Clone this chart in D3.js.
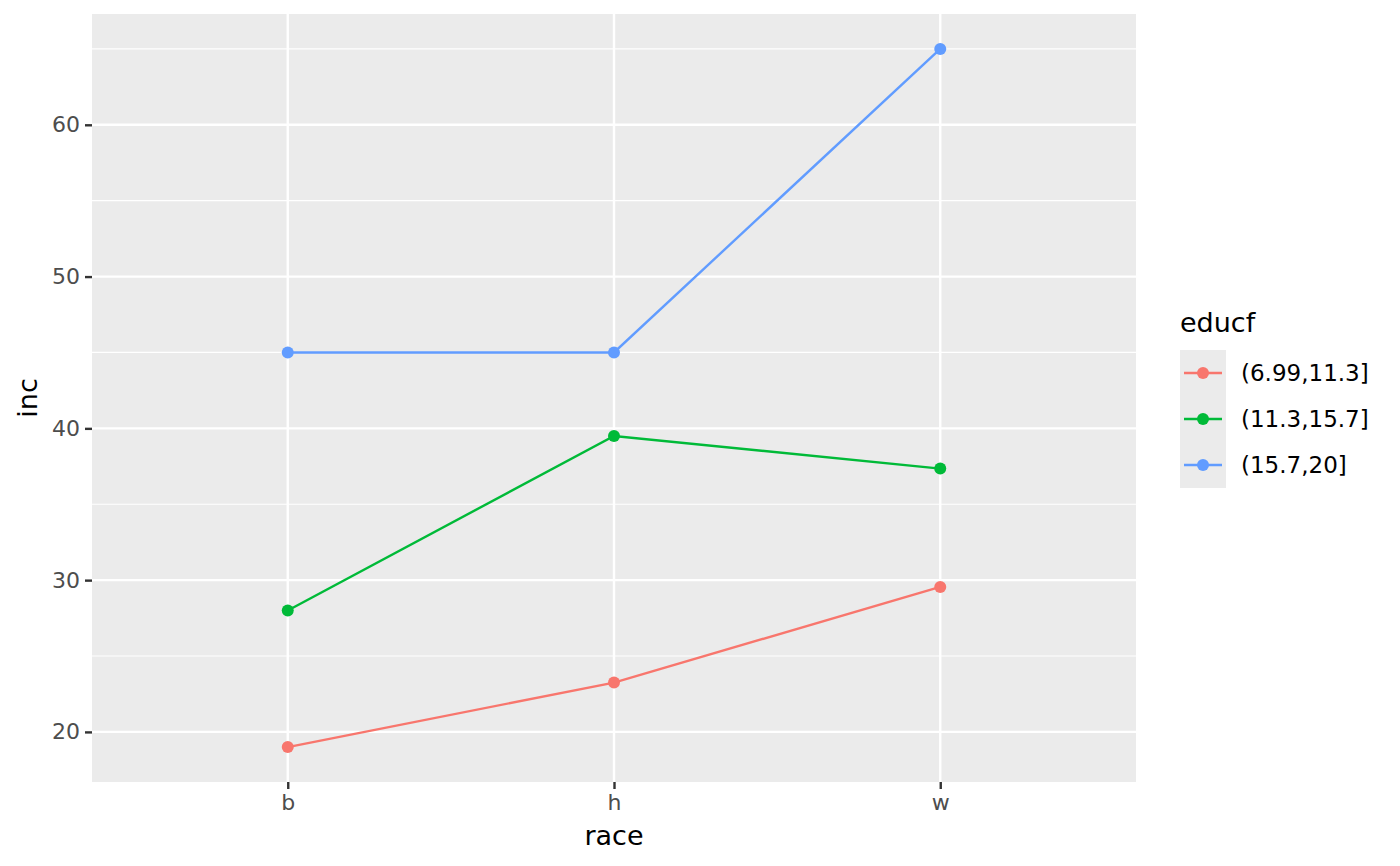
<!DOCTYPE html>
<html><head><meta charset="utf-8">
<script src="https://cdn.jsdelivr.net/npm/d3@7"></script>
<style>body{margin:0;background:#fff}text{font-family:"DejaVu Sans",sans-serif}</style>
</head><body>
<svg id="c" width="1400" height="866"></svg>
<script>
const races = ["b","h","w"];
const groups = ["(6.99,11.3]","(11.3,15.7]","(15.7,20]"];
const colors = ["#F8766D","#00BA38","#619CFF"];
const incLow = [19.0, 23.25, 29.55];
const incMid = [28.0, 39.5, 37.35];
const incHigh = [45.0, 45.0, 65.0];
const yTicks = [20,30,40,50,60];
const series = [incLow, incMid, incHigh];

const svg = d3.select("#c");
const L=92, R=1136, T=14, B=782;
const allV = series.flat();
const mn=d3.min(allV), mx=d3.max(allV), pad=(mx-mn)*0.05;
const y = d3.scaleLinear().domain([mn-pad, mx+pad]).range([B,T]);
const x = d3.scalePoint().domain(races).range([L,R]).padding(0.6);

svg.append("rect").attr("x",L).attr("y",T).attr("width",R-L).attr("height",B-T).attr("fill","#EBEBEB");
const minors = [15,25,35,45,55,65].filter(v=>y(v)>=T&&y(v)<=B);
svg.selectAll(".mg").data(minors).enter().append("line")
 .attr("x1",L).attr("x2",R).attr("y1",d=>y(d)).attr("y2",d=>y(d)).attr("stroke","#fff").attr("stroke-width",1.2);
svg.selectAll(".gy").data(yTicks).enter().append("line")
 .attr("x1",L).attr("x2",R).attr("y1",d=>y(d)).attr("y2",d=>y(d)).attr("stroke","#fff").attr("stroke-width",2.4);
svg.selectAll(".gx").data(races).enter().append("line")
 .attr("y1",T).attr("y2",B).attr("x1",d=>x(d)).attr("x2",d=>x(d)).attr("stroke","#fff").attr("stroke-width",2.4);

const yAxis = d3.axisLeft(y).tickValues(yTicks).tickSize(7).tickPadding(5);
const gy = svg.append("g").attr("transform",`translate(${L},0)`).call(yAxis);
gy.select(".domain").remove();
gy.selectAll("line").attr("stroke","#333").attr("stroke-width",2.4);
gy.selectAll("text").attr("fill","#4D4D4D").style("font-size","22px").style("font-family","DejaVu Sans");
const xAxis = d3.axisBottom(x).tickSize(7).tickPadding(5);
const gx = svg.append("g").attr("transform",`translate(0,${B})`).call(xAxis);
gx.select(".domain").remove();
gx.selectAll("line").attr("stroke","#333").attr("stroke-width",2.4);
gx.selectAll("text").attr("fill","#4D4D4D").style("font-size","22px").style("font-family","DejaVu Sans");

const line = d3.line().x((d,i)=>x(races[i])).y(d=>y(d));
series.forEach((s,k)=>{
  svg.append("path").attr("d",line(s)).attr("fill","none").attr("stroke",colors[k]).attr("stroke-width",2.4);
  svg.selectAll(".p"+k).data(s).enter().append("circle")
   .attr("cx",(d,i)=>x(races[i])).attr("cy",d=>y(d)).attr("r",6).attr("fill",colors[k]);
});

svg.append("text").attr("x",(L+R)/2).attr("y",845).attr("text-anchor","middle").style("font-size","27px").attr("fill","#000").text("race");
svg.append("text").attr("transform",`translate(37,${(T+B)/2}) rotate(-90)`).attr("text-anchor","middle").style("font-size","27px").attr("fill","#000").text("inc");

const lg = svg.append("g");
lg.append("text").attr("x",1180).attr("y",332).style("font-size","27px").attr("fill","#000").text("educf");
groups.forEach((g,i)=>{
  const cy = 373 + i*46;
  lg.append("rect").attr("x",1180).attr("y",cy-23).attr("width",46).attr("height",46).attr("fill","#EBEBEB");
  lg.append("line").attr("x1",1184).attr("x2",1222).attr("y1",cy).attr("y2",cy).attr("stroke",colors[i]).attr("stroke-width",2.4);
  lg.append("circle").attr("cx",1203).attr("cy",cy).attr("r",6).attr("fill",colors[i]);
  lg.append("text").attr("x",1241).attr("y",cy+8).style("font-size","23px").attr("fill","#000").text(g);
});
</script>
</body></html>
